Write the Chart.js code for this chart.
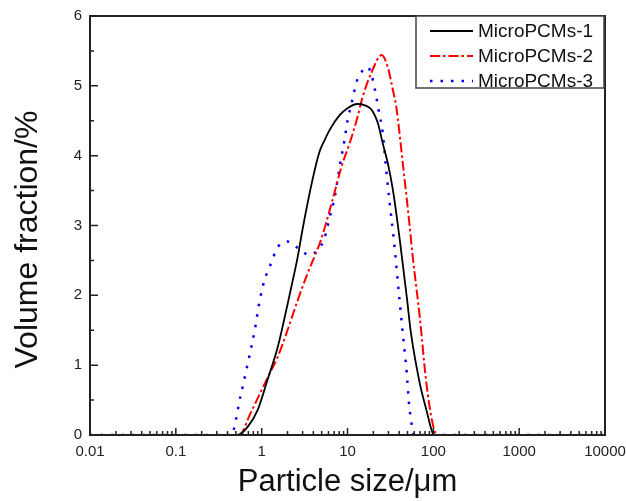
<!DOCTYPE html>
<html>
<head>
<meta charset="utf-8">
<script src="https://cdn.jsdelivr.net/npm/chart.js@4.4.1/dist/chart.umd.min.js"></script>
<style>
    body { margin: 0; background: #fff; }
    #wrap { width: 626px; height: 501px; }
</style>
</head>
<body>
<div id="wrap"><canvas id="sizeChart" width="626" height="501"></canvas></div>
<script>
// particle size distribution
const sizes1 = [0.01, 0.52, 0.69, 0.9, 1.17, 1.54, 1.85, 2.18, 2.63, 3, 3.9, 4.7, 5.4, 6.2, 8.1, 10, 13, 16, 19, 22.5, 25.7, 29.4, 33.8, 40.7, 49, 55, 69.5, 83, 98, 105, 10000];
const volume1 = [0, 0, 0.12, 0.36, 0.79, 1.26, 1.68, 2.08, 2.55, 2.95, 3.65, 4.05, 4.22, 4.37, 4.58, 4.68, 4.74, 4.72, 4.66, 4.47, 4.18, 3.9, 3.51, 2.79, 1.98, 1.45, 0.74, 0.36, 0.03, 0, 0];

const sizes2 = [0.01, 0.55, 0.74, 1.17, 1.54, 2.0, 2.63, 3.44, 4.27, 4.9, 6.7, 8.5, 10.6, 12.8, 15, 19, 25, 29.4, 33.8, 37, 44, 53, 57, 69.5, 83, 98, 110, 10000];
const volume2 = [0, 0, 0.31, 0.82, 1.12, 1.5, 1.93, 2.32, 2.6, 2.79, 3.37, 3.84, 4.18, 4.51, 4.84, 5.19, 5.44, 5.27, 4.94, 4.7, 3.9, 2.99, 2.6, 1.69, 0.74, 0.17, 0, 0];

const sizes3 = [0.01, 0.44, 0.57, 0.69, 0.83, 0.95, 1.08, 1.24, 1.54, 2.0, 2.63, 3.6, 4.5, 5.4, 6.2, 7.1, 8.1, 9.3, 10, 11.2, 12.8, 14.6, 17.2, 19, 20.7, 23, 25.7, 28.5, 31, 34, 40.7, 44, 49, 52, 55.6, 60, 10000];
const volume3 = [0, 0, 0.57, 1.03, 1.5, 1.93, 2.22, 2.41, 2.69, 2.77, 2.68, 2.58, 2.65, 2.82, 3.12, 3.41, 3.84, 4.25, 4.5, 4.76, 5.06, 5.2, 5.27, 5.16, 4.97, 4.66, 4.33, 3.75, 3.32, 2.89, 1.89, 1.46, 0.89, 0.46, 0.17, 0, 0];

const seriesNames = ['MicroPCMs-1', 'MicroPCMs-2', 'MicroPCMs-3'];

const xTickValues = [0.01, 0.1, 1, 10, 100, 1000, 10000];
const xTickLabels = ['0.01', '0.1', '1', '10', '100', '1000', '10000'];
const yTickValues = [0, 1, 2, 3, 4, 5, 6];

const xTitle = 'Particle size/\u03bcm';
const yTitle = 'Volume fraction/%';

Chart.defaults.font.family = 'Arial, "Liberation Sans", sans-serif';

function toPoints(xs, ys) {
    return xs.map((x, i) => ({ x: x, y: ys[i] }));
}

// frame, inward ticks, y title and the boxed legend
const framePlugin = {
    id: 'frame',
    afterDraw(chart) {
        const ctx = chart.ctx;
        const area = chart.chartArea;
        const xs = chart.scales.x;
        const ys = chart.scales.y;
        ctx.save();

        ctx.strokeStyle = '#222';
        ctx.lineWidth = 1.5;
        ctx.beginPath();
        xTickValues.forEach((v, i) => {
            const px = xs.getPixelForValue(v);
            ctx.moveTo(px, area.bottom);
            ctx.lineTo(px, area.bottom - 7);
            if (i < xTickValues.length - 1) {
                for (let m = 2; m <= 9; m++) {
                    const mx = xs.getPixelForValue(v * m);
                    ctx.moveTo(mx, area.bottom);
                    ctx.lineTo(mx, area.bottom - 4);
                }
            }
        });
        yTickValues.forEach((v, i) => {
            const py = ys.getPixelForValue(v);
            ctx.moveTo(area.left, py);
            ctx.lineTo(area.left + 8, py);
            if (i < yTickValues.length - 1) {
                const my = ys.getPixelForValue(v + 0.5);
                ctx.moveTo(area.left, my);
                ctx.lineTo(area.left + 4, my);
            }
        });
        ctx.stroke();

        ctx.lineWidth = 2;
        ctx.strokeRect(area.left, area.top, area.right - area.left, area.bottom - area.top);

        // y axis title
        ctx.fillStyle = '#111';
        ctx.font = '32px Arial, "Liberation Sans", sans-serif';
        ctx.textAlign = 'center';
        ctx.textBaseline = 'middle';
        ctx.translate(28.5, 239.5);
        ctx.rotate(-Math.PI / 2);
        ctx.fillText(yTitle, 0, 0);
        ctx.setTransform(1, 0, 0, 1, 0, 0);

        // legend
        const boxW = 188, boxH = 72;
        const bx = area.right - boxW - 1;
        const by = area.top;
        ctx.fillStyle = '#fff';
        ctx.fillRect(bx, by, boxW, boxH);
        ctx.strokeStyle = '#444';
        ctx.lineWidth = 1.5;
        ctx.strokeRect(bx, by, boxW, boxH);

        ctx.font = '19px Arial, "Liberation Sans", sans-serif';
        ctx.textAlign = 'left';
        chart.data.datasets.forEach((ds, i) => {
            const ly = by + 15 + i * 25;
            ctx.strokeStyle = ds.borderColor;
            ctx.lineWidth = ds.borderWidth;
            ctx.setLineDash(ds.borderDash || []);
            ctx.beginPath();
            ctx.moveTo(bx + 14, ly);
            ctx.lineTo(bx + 57, ly);
            ctx.stroke();
            ctx.setLineDash([]);
            ctx.fillStyle = '#111';
            ctx.fillText(ds.label, bx + 62, ly + 1);
        });

        ctx.restore();
    }
};

document.addEventListener('DOMContentLoaded', () => {
    const ctx = document.getElementById('sizeChart').getContext('2d');

    new Chart(ctx, {
        type: 'line',
        data: {
            datasets: [
                {
                    label: seriesNames[0],
                    data: toPoints(sizes1, volume1),
                    borderColor: '#000',
                    borderWidth: 1.8
                },
                {
                    label: seriesNames[1],
                    data: toPoints(sizes2, volume2),
                    borderColor: '#ff0000',
                    borderWidth: 2,
                    borderDash: [10, 3, 2.5, 3]
                },
                {
                    label: seriesNames[2],
                    data: toPoints(sizes3, volume3),
                    borderColor: '#0000ff',
                    borderWidth: 2.5,
                    borderDash: [2.5, 8]
                }
            ]
        },
        options: {
            responsive: false,
            animation: false,
            elements: {
                point: { radius: 0 },
                line: { cubicInterpolationMode: 'monotone', fill: false }
            },
            layout: {
                padding: { top: 16, right: 21, bottom: 0, left: 0 }
            },
            plugins: {
                legend: { display: false },
                tooltip: { enabled: false }
            },
            scales: {
                x: {
                    type: 'logarithmic',
                    min: 0.01,
                    max: 10000,
                    grid: { display: false, drawTicks: false },
                    border: { display: false },
                    afterBuildTicks: scale => {
                        scale.ticks = xTickValues.map(v => ({ value: v }));
                    },
                    afterFit: scale => {
                        scale.height = 66;
                        scale.paddingLeft = 0;
                        scale.paddingRight = 0;
                    },
                    ticks: {
                        color: '#222',
                        font: { size: 15 },
                        padding: 8,
                        maxRotation: 0,
                        autoSkip: false,
                        callback: (value, index) => xTickLabels[index]
                    },
                    title: {
                        display: true,
                        text: xTitle,
                        color: '#111',
                        font: { size: 31 },
                        padding: { top: 0, bottom: 0 }
                    }
                },
                y: {
                    min: 0,
                    max: 6,
                    grid: { display: false, drawTicks: false },
                    border: { display: false },
                    afterFit: scale => {
                        scale.width = 90;
                        scale.paddingTop = 0;
                        scale.paddingBottom = 0;
                    },
                    ticks: {
                        stepSize: 1,
                        color: '#222',
                        font: { size: 15 },
                        padding: 8
                    }
                }
            }
        },
        plugins: [framePlugin]
    });
});
</script>
</body>
</html>
